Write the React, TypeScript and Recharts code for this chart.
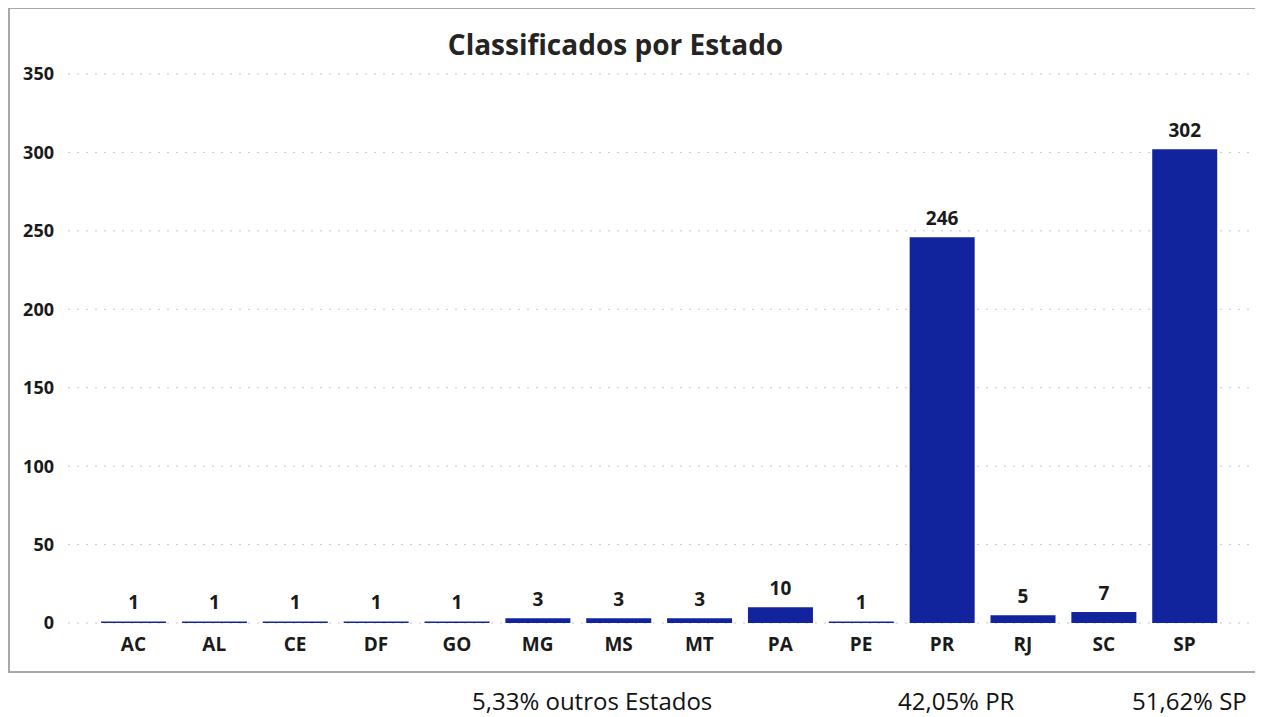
import { BarChart, Bar, XAxis, YAxis, CartesianGrid, LabelList } from 'recharts';

const estados = ['AC', 'AL', 'CE', 'DF', 'GO', 'MG', 'MS', 'MT', 'PA', 'PE', 'PR', 'RJ', 'SC', 'SP'];
const classificados = [1, 1, 1, 1, 1, 3, 3, 3, 10, 1, 246, 5, 7, 302];
const yTicks = [0, 50, 100, 150, 200, 250, 300, 350];
const resumo = [
  { texto: '5,33% outros Estados', x: 472 },
  { texto: '42,05% PR', x: 898 },
  { texto: '51,62% SP', x: 1132 },
];

const data = estados.map((estado, i) => ({ estado, total: classificados[i] }));

const FONT = '"Open Sans", "Noto Sans", sans-serif';

export default function App() {
  return (
    <div
      style={{
        position: 'relative',
        width: 1263,
        height: 717,
        margin: '-8px 0 0 -8px',
        fontFamily: FONT,
        background: '#fff',
        overflow: 'hidden',
      }}
    >
      {/* moldura */}
      <div
        style={{
          position: 'absolute',
          left: 8,
          top: 7,
          width: 1245,
          height: 662,
          border: '2px solid #a8a8a8',
        }}
      />
      <div
        style={{
          position: 'absolute',
          left: 0,
          width: 1231,
          top: 25,
          textAlign: 'center',
          fontSize: 28,
          fontWeight: 700,
          color: '#252423',
          whiteSpace: 'nowrap',
        }}
      >
        Classificados por Estado
      </div>
      <div style={{ position: 'absolute', left: 0, top: 0 }}>
        <BarChart
          width={1263}
          height={690}
          data={data}
          margin={{ top: 74, right: 13, left: 0, bottom: 37 }}
          barCategoryGap="10%"
        >
          <CartesianGrid vertical={false} stroke="#c8c8c8" strokeDasharray="2 7" />
          <XAxis
            dataKey="estado"
            axisLine={false}
            tickLine={false}
            height={30}
            tickMargin={9}
            padding={{ left: 25, right: 25 }}
            tick={{ fill: '#1a1a1a', fontSize: 19, fontWeight: 700, fontFamily: FONT }}
          />
          <YAxis
            width={68}
            domain={[0, 350]}
            ticks={yTicks}
            axisLine={false}
            tickLine={false}
            tickMargin={8}
            tick={{ fill: '#1a1a1a', fontSize: 18, fontWeight: 700, fontFamily: FONT }}
          />
          <Bar dataKey="total" fill="#12239e" isAnimationActive={false}>
            <LabelList
              dataKey="total"
              position="top"
              offset={12}
              style={{ fill: '#1a1a1a', fontSize: 19, fontWeight: 700, fontFamily: FONT }}
            />
          </Bar>
        </BarChart>
      </div>
      {resumo.map((r) => (
        <div
          key={r.texto}
          style={{
            position: 'absolute',
            left: r.x,
            top: 689,
            fontSize: 24,
            lineHeight: '24px',
            color: '#111',
            whiteSpace: 'nowrap',
          }}
        >
          {r.texto}
        </div>
      ))}
    </div>
  );
}
